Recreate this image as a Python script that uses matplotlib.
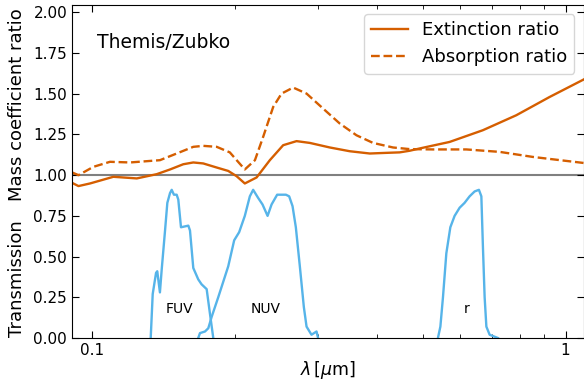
import matplotlib
matplotlib.use('Agg')
import matplotlib.pyplot as plt
import numpy as np
from matplotlib.ticker import FuncFormatter, NullFormatter

# mass coefficient ratios vs wavelength (micron)
extWave = [0.0907, 0.0936, 0.0990, 0.1109, 0.1243, 0.1369, 0.1461, 0.1558, 0.1636,
           0.1717, 0.1833, 0.1939, 0.2019, 0.2102, 0.2226, 0.2374, 0.2533, 0.2703,
           0.2884, 0.3178, 0.3501, 0.3860, 0.4184, 0.4465, 0.4687, 0.4920, 0.5690,
           0.6690, 0.7871, 0.9253, 1.0914]
extRatio = [0.953, 0.933, 0.949, 0.990, 0.980, 1.006, 1.035, 1.067, 1.078,
            1.072, 1.047, 1.026, 0.994, 0.949, 0.986, 1.092, 1.184, 1.209,
            1.198, 1.170, 1.147, 1.133, 1.137, 1.140, 1.150, 1.164, 1.204,
            1.276, 1.368, 1.480, 1.587]

absWave = [0.0907, 0.0936, 0.1006, 0.1091, 0.1203, 0.1391, 0.1509, 0.1636, 0.1717,
           0.1833, 0.1954, 0.2102, 0.2208, 0.2298, 0.2413, 0.2513, 0.2659, 0.2838,
           0.3076, 0.3336, 0.3618, 0.3922, 0.4322, 0.4687, 0.5249, 0.6172, 0.7259,
           0.8531, 1.0914]
absRatio = [1.017, 1.000, 1.051, 1.082, 1.078, 1.092, 1.133, 1.174, 1.180,
            1.174, 1.140, 1.035, 1.092, 1.235, 1.419, 1.501, 1.538, 1.501,
            1.409, 1.317, 1.245, 1.198, 1.170, 1.160, 1.158, 1.158, 1.143,
            1.112, 1.075]

# filter transmission curves
fuvWave = [0.1330, 0.1343, 0.1365, 0.1373, 0.1391, 0.1403, 0.1426, 0.1442, 0.1461,
           0.1473, 0.1489, 0.1509, 0.1521, 0.1541, 0.1597, 0.1610, 0.1636, 0.1676,
           0.1703, 0.1746, 0.1774, 0.1803]
fuvTrans = [0.00, 0.27, 0.40, 0.41, 0.28, 0.42, 0.66, 0.83, 0.89,
            0.91, 0.88, 0.88, 0.85, 0.68, 0.69, 0.66, 0.43, 0.36,
            0.33, 0.30, 0.15, 0.00]

nuvWave = [0.1676, 0.1690, 0.1732, 0.1760, 0.1789, 0.1847, 0.1939, 0.1996, 0.2045,
           0.2102, 0.2154, 0.2189, 0.2243, 0.2291, 0.2348, 0.2394, 0.2460, 0.2567,
           0.2608, 0.2651, 0.2694, 0.2747, 0.2801, 0.2838, 0.2907, 0.2979, 0.3002]
nuvTrans = [0.00, 0.03, 0.04, 0.06, 0.13, 0.25, 0.44, 0.60, 0.65,
            0.75, 0.87, 0.91, 0.86, 0.82, 0.75, 0.82, 0.88, 0.88,
            0.87, 0.81, 0.68, 0.44, 0.19, 0.07, 0.02, 0.04, 0.00]

rWave = [0.5377, 0.5441, 0.5510, 0.5601, 0.5711, 0.5831, 0.5975, 0.6121, 0.6272,
         0.6427, 0.6563, 0.6641, 0.6692, 0.6748, 0.6805, 0.6914, 0.7198]
rTrans = [0.00, 0.07, 0.25, 0.52, 0.68, 0.75, 0.80, 0.83, 0.87,
          0.90, 0.91, 0.87, 0.56, 0.25, 0.07, 0.02, 0.00]

bandNames = ['FUV', 'NUV', 'r']
bandLabelWave = [0.1533, 0.2329, 0.6181]
bandLabelY = 0.18

orange = '#d55e00'
blue = '#56b4e9'

fig = plt.figure(figsize=(5.84, 3.91), dpi=100)
ax = fig.add_axes([72 / 584, 53 / 391, 511.5 / 584, 333 / 391])

ax.axhline(1.0, color='grey', lw=1.5, zorder=1)
ax.plot(extWave, extRatio, color=orange, lw=1.7, label='Extinction ratio')
ax.plot(absWave, absRatio, color=orange, lw=1.7, ls='--', label='Absorption ratio')
for w, t in [(fuvWave, fuvTrans), (nuvWave, nuvTrans), (rWave, rTrans)]:
    ax.plot(w, t, color=blue, lw=1.7)
for name, w in zip(bandNames, bandLabelWave):
    ax.text(w, bandLabelY, name, ha='center', va='center', fontsize=10)

ax.set_xscale('log')
ax.set_xlim(0.0907, 1.0914)
ax.set_ylim(0, 2.045)
ax.set_yticks(np.arange(0, 2.01, 0.25))
ax.yaxis.set_major_formatter(FuncFormatter(lambda v, p: '%.2f' % v))
ax.xaxis.set_major_formatter(FuncFormatter(lambda v, p: '%g' % v))
ax.xaxis.set_minor_formatter(NullFormatter())
ax.tick_params(which='both', direction='in', top=True, right=True, labelsize=11)
ax.tick_params(which='major', length=5)
ax.tick_params(which='minor', length=3)

ax.set_xlabel(r'$\lambda\,[\mu$m$]$', fontsize=12.5, labelpad=1)
ax.text(-0.107, 0.70, 'Mass coefficient ratio', transform=ax.transAxes,
        rotation=90, ha='center', va='center', fontsize=13)
ax.text(-0.107, 0.177, 'Transmission', transform=ax.transAxes,
        rotation=90, ha='center', va='center', fontsize=13)
ax.text(0.049, 0.886, 'Themis/Zubko', transform=ax.transAxes, fontsize=13.5,
        va='center')
ax.legend(loc='upper right', fontsize=13)

fig.savefig('out.png', dpi=100)
